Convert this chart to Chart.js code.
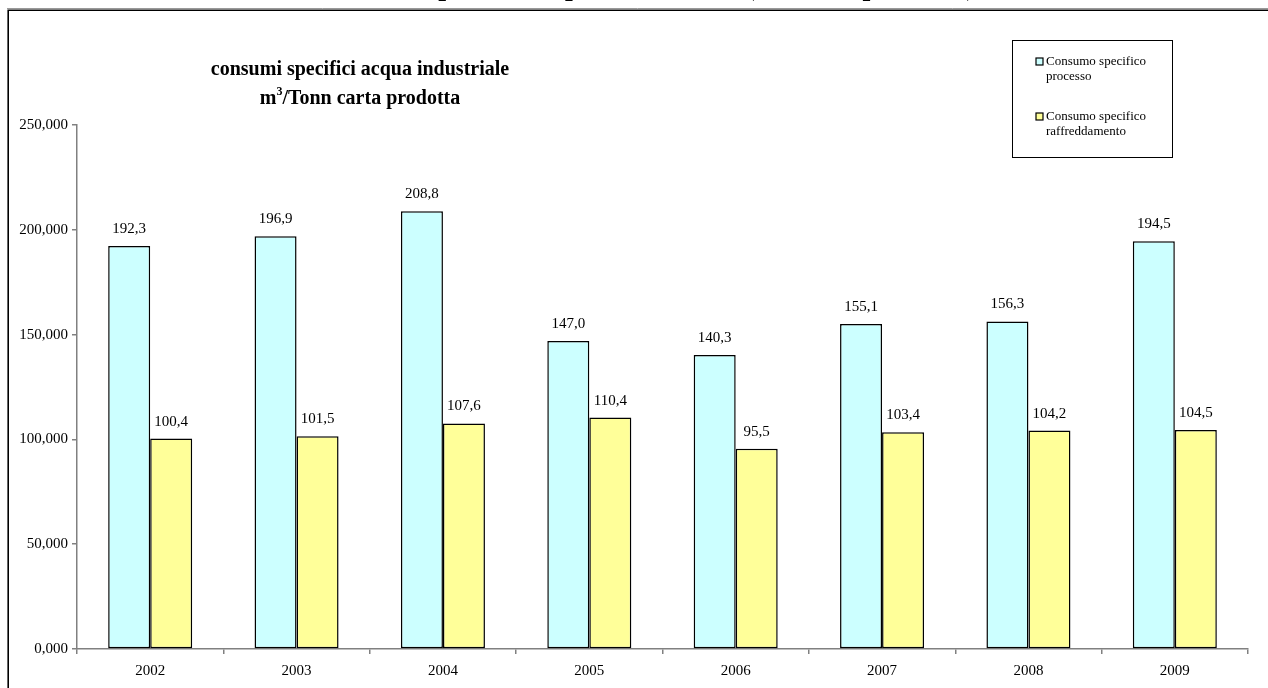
<!DOCTYPE html>
<html>
<head>
<meta charset="utf-8">
<script src="https://cdn.jsdelivr.net/npm/chart.js@4.4.1/dist/chart.umd.min.js"></script>
<style>
  body { margin: 0; background: #fff; }
  canvas { display: block; }
</style>
</head>
<body>
<canvas id="myChart" width="1268" height="688"></canvas>
<script>
const years = ['2002', '2003', '2004', '2005', '2006', '2007', '2008', '2009'];
const processo = [192.3, 196.9, 208.8, 147.0, 140.3, 155.1, 156.3, 194.5];
const raffreddamento = [100.4, 101.5, 107.6, 110.4, 95.5, 103.4, 104.2, 104.5];
const seriesNames = [['Consumo specifico', 'processo'], ['Consumo specifico', 'raffreddamento']];
const seriesColors = ['#ccffff', '#ffff99'];
const pageTitle = 'Consumi specifici acqua industriale (m\u00b3/Tonn prodotta)';

const serif = "'Liberation Serif', 'Times New Roman', serif";
Chart.defaults.font.family = serif;
Chart.defaults.color = '#000';

const comma = (v, d) => v.toFixed(d).replace('.', ',');

// frame, cut title, subtitle, legend, value labels
const decorations = {
  id: 'decorations',
  beforeDraw(chart) {
    const c = chart.ctx;
    c.save();
    c.fillStyle = '#fff';
    c.fillRect(0, 0, chart.width, chart.height);
    // title above the frame, only the descenders show
    c.fillStyle = '#000';
    c.font = 'bold 28px ' + serif;
    c.textAlign = 'left';
    c.textBaseline = 'alphabetic';
    c.fillText(pageTitle, 313, -5);
    // frame
    c.strokeStyle = '#999';
    c.lineWidth = 1;
    c.beginPath();
    c.moveTo(7, 8.5); c.lineTo(1268, 8.5);
    c.stroke();
    c.strokeStyle = '#000';
    c.lineWidth = 1.6;
    c.beginPath();
    c.moveTo(8.2, 688); c.lineTo(8.2, 10.2); c.lineTo(1268, 10.2);
    c.stroke();
    c.restore();
  },
  afterDraw(chart) {
    const c = chart.ctx;
    c.save();
    // subtitle
    c.fillStyle = '#000';
    c.textBaseline = 'alphabetic';
    c.textAlign = 'center';
    c.font = 'bold 20px ' + serif;
    c.fillText('consumi specifici acqua industriale', 360, 75);
    c.textAlign = 'left';
    const rest = '/Tonn carta prodotta';
    const wm = c.measureText('m').width;
    const wr = c.measureText(rest).width;
    c.font = 'bold 12px ' + serif;
    const w3 = c.measureText('3').width;
    let x = 360 - (wm + w3 + wr) / 2;
    c.font = 'bold 20px ' + serif;
    c.fillText('m', x, 104);
    c.font = 'bold 12px ' + serif;
    c.fillText('3', x + wm, 95);
    c.font = 'bold 20px ' + serif;
    c.fillText(rest, x + wm + w3, 104);

    // legend
    c.strokeStyle = '#000';
    c.lineWidth = 1;
    c.strokeRect(1012.5, 40.5, 160, 117);
    c.font = '13px ' + serif;
    c.textBaseline = 'middle';
    const rows = [62, 117];
    seriesNames.forEach((lines, i) => {
      const y = rows[i];
      c.fillStyle = seriesColors[i];
      c.fillRect(1036, y - 4, 7, 7);
      c.strokeStyle = '#000';
      c.lineWidth = 1.2;
      c.strokeRect(1036, y - 4, 7, 7);
      c.fillStyle = '#000';
      lines.forEach((t, j) => c.fillText(t, 1046, y + j * 15));
    });

    // values over bars
    c.font = '15px ' + serif;
    c.textAlign = 'center';
    c.textBaseline = 'alphabetic';
    chart.data.datasets.forEach((ds, i) => {
      chart.getDatasetMeta(i).data.forEach((bar, j) => {
        c.fillText(comma(ds.data[j], 1), bar.x, bar.y - 13);
      });
    });
    c.restore();
  }
};

const ctx = document.getElementById('myChart');
const myChart = new Chart(ctx, {
  type: 'bar',
  data: {
    labels: years,
    datasets: [{
      label: seriesNames[0].join(' '),
      data: processo,
      backgroundColor: seriesColors[0],
      borderColor: '#000',
      borderWidth: 1.5,
      borderSkipped: false
    }, {
      label: seriesNames[1].join(' '),
      data: raffreddamento,
      backgroundColor: seriesColors[1],
      borderColor: '#000',
      borderWidth: 1.5,
      borderSkipped: false
    }]
  },
  options: {
    responsive: false,
    animation: false,
    datasets: {
      bar: { categoryPercentage: 0.574, barPercentage: 1 }
    },
    layout: { padding: { left: 0, right: 20, top: 125, bottom: 0 } },
    plugins: {
      legend: { display: false },
      tooltip: { enabled: false }
    },
    scales: {
      x: {
        afterFit: s => { s.height = 39; },
        border: { color: '#808080', width: 1.5 },
        grid: { drawOnChartArea: false, color: '#808080', tickLength: 5, lineWidth: 1.5 },
        ticks: { font: { size: 15 }, padding: 8, color: '#000' }
      },
      y: {
        min: 0,
        max: 250,
        afterFit: s => { s.width = 77; },
        border: { color: '#808080', width: 1.5 },
        grid: { drawOnChartArea: false, color: '#808080', tickLength: 5, lineWidth: 1.5 },
        ticks: {
          stepSize: 50,
          font: { size: 15 },
          padding: 4,
          color: '#000',
          callback: v => comma(v, 3)
        }
      }
    }
  },
  plugins: [decorations]
});
</script>
</body>
</html>
